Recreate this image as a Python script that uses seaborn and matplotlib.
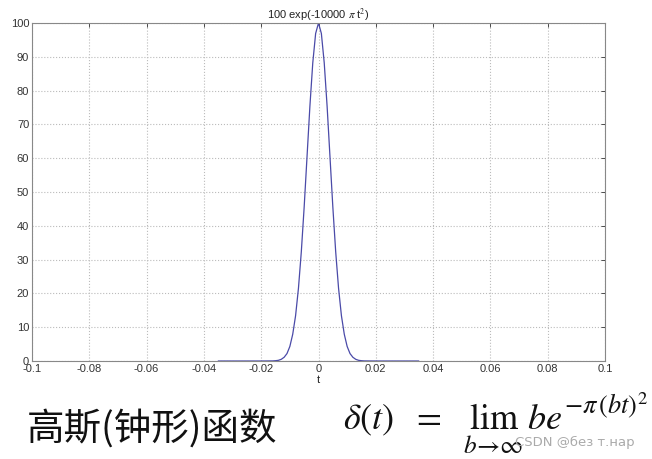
import matplotlib
matplotlib.use("Agg")
import matplotlib.pyplot as plt
import numpy as np
import pandas as pd
import seaborn as sns

# 曲线采样点
t_vals = [-0.035, -0.020, -0.016, -0.015, -0.014, -0.013, -0.012, -0.011, -0.010,
          -0.009, -0.008, -0.007, -0.006, -0.005, -0.004, -0.003, -0.002, -0.001,
          0.0, 0.001, 0.002, 0.003, 0.004, 0.005, 0.006, 0.007, 0.008, 0.009,
          0.010, 0.011, 0.012, 0.013, 0.014, 0.015, 0.016, 0.020, 0.035]
y_vals = [0.0, 0.0, 0.03, 0.09, 0.2, 0.5, 1.1, 2.2, 4.3,
          7.9, 13.4, 21.5, 32.3, 45.6, 60.5, 75.4, 88.2, 96.9,
          100.0, 96.9, 88.2, 75.4, 60.5, 45.6, 32.3, 21.5, 13.4, 7.9,
          4.3, 2.2, 1.1, 0.5, 0.2, 0.09, 0.03, 0.0, 0.0]

x_ticks = [-0.1, -0.08, -0.06, -0.04, -0.02, 0, 0.02, 0.04, 0.06, 0.08, 0.1]
x_labels = ["-0.1", "-0.08", "-0.06", "-0.04", "-0.02", "0", "0.02", "0.04", "0.06", "0.08", "0.1"]
y_ticks = [0, 10, 20, 30, 40, 50, 60, 70, 80, 90, 100]

title_text = r"100 exp(-10000 $\pi$ t$^2$)"
caption_text = "高斯(钟形)函数"
formula_main = r"$\delta(t)\ \ =\ \ \lim_{b\rightarrow\infty}\,be$"
formula_exp = r"$-\pi\,(bt)^2$"
mark_text = "CSDN @без т.нар"

sns.set_theme(style="white")
plt.rcParams["font.family"] = ["Liberation Sans", "DejaVu Sans"]
plt.rcParams["mathtext.fontset"] = "stix"

df = pd.DataFrame({"t": t_vals, "y": y_vals})

fig = plt.figure(figsize=(6.52, 4.59), dpi=100)
ax = fig.add_axes([0.049, 0.2135, 0.879, 0.7364])

sns.lineplot(data=df, x="t", y="y", ax=ax, color="#4a4aa8", linewidth=0.9)

ax.set_xlim(-0.1, 0.1)
ax.set_ylim(0, 100)
ax.set_xticks(x_ticks)
ax.set_xticklabels(x_labels)
ax.set_yticks(y_ticks)
ax.tick_params(axis="both", direction="in", length=3, width=0.6, colors="#333333",
               labelsize=8, top=True, right=True, pad=2)
ax.grid(True, linestyle=":", color="#bbbbbb", linewidth=0.8)
for s in ax.spines.values():
    s.set_color("#888888")
    s.set_linewidth(0.8)
ax.set_xlabel("t", fontsize=8, labelpad=1, color="#222222")
ax.set_ylabel("")
ax.set_title(title_text, fontsize=8, pad=3, color="#222222")

# 底部说明文字和公式
fig.text(27 / 652, 1 - 440 / 459, caption_text, fontsize=27,
         family=["Noto Sans CJK SC"], color="#111111", va="baseline")
main = fig.text(343 / 652, 1 - 430 / 459, formula_main, fontsize=26,
                color="#111111", va="baseline")
fig.canvas.draw()
bb = main.get_window_extent()
x_exp = bb.x1 / fig.bbox.width + 0.002
fig.text(x_exp, 1 - 413 / 459, formula_exp, fontsize=19, color="#111111",
         va="baseline")
fig.text(515 / 652, 1 - 446 / 459, mark_text, fontsize=9.5, color="#aaaaaa",
         va="baseline", family=["DejaVu Sans"])

fig.savefig("out.png", dpi=100)
plt.close(fig)
